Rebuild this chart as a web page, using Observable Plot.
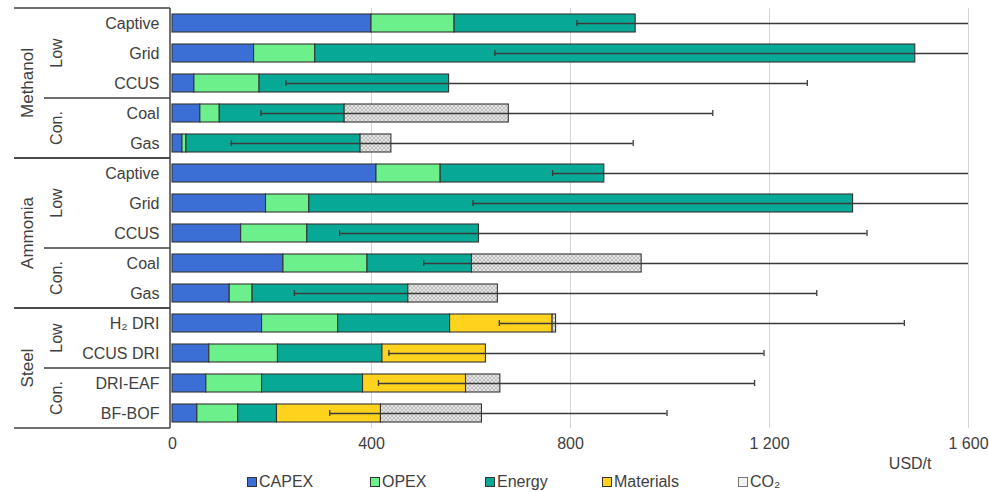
<!DOCTYPE html>
<html><head><meta charset="utf-8">
<script src="https://cdn.jsdelivr.net/npm/d3@7"></script>
<script src="https://cdn.jsdelivr.net/npm/@observablehq/plot@0.6"></script>
<style>
body{margin:0;background:#fff;font-family:"Liberation Sans",Arial,sans-serif;}
#chart{position:relative;width:989px;height:492px;overflow:hidden;}
#chart svg{display:block;}
.legend{position:relative;width:989px;height:20px;font-size:16px;color:#404040;}
.item{position:absolute;top:0;height:20px;display:flex;align-items:center;white-space:nowrap;}
.sw{width:8px;height:8px;border:1px solid #333;margin-right:2px;}
</style></head><body><div id="chart"></div>
<script>
// ---- data ----
const commodities = ["Methanol","Methanol","Methanol","Methanol","Methanol","Ammonia","Ammonia","Ammonia","Ammonia","Ammonia","Steel","Steel","Steel","Steel"];
const subgroups  = ["Low","Low","Low","Con.","Con.","Low","Low","Low","Con.","Con.","Low","Low","Con.","Con."];
const routes     = ["Captive","Grid","CCUS","Coal","Gas","Captive","Grid","CCUS","Coal","Gas","H₂ DRI","CCUS DRI","DRI-EAF","BF-BOF"];
const capex      = [400,164,44,56,20,410,188,138,223,115,180,74,68,50];
const opex       = [167,123,131,39,8,129,87,133,169,46,153,138,112,82];
const energy     = [364,1206,381,251,350,329,1093,345,210,313,225,210,203,78];
const materials  = [0,0,0,0,0,0,0,0,0,0,206,208,207,209];
const co2        = [0,0,0,330,62,0,0,0,341,180,7,0,69,203];
const errLow     = [813,648,228,178,118,764,604,336,505,245,657,435,414,316];
const errHigh    = [1700,1700,1276,1086,926,1700,1700,1396,1700,1295,1471,1189,1170,994];
const components = ["CAPEX","OPEX","Energy","Materials","CO₂"];
const colors     = ["#3b6fd6","#6cf08c","#08a896","#ffd21e","url(#co2hatch)"];
const xTicks     = [0,400,800,1200,1600];
const unitLabel  = "USD/t";

// ---- build tables ----
const keys = routes.map((r,i)=>commodities[i]+"|"+subgroups[i]+"|"+r);
const routeOf = Object.fromEntries(keys.map((k,i)=>[k,routes[i]]));
const series = [capex,opex,energy,materials,co2];
const long = [];
keys.forEach((k,i)=>components.forEach((c,j)=>{ if(series[j][i]>0) long.push({key:k,component:c,value:series[j][i]}); }));
const errs = keys.map((k,i)=>({key:k,lo:errLow[i],hi:errHigh[i]}));
const font = '"Liberation Sans", Arial, sans-serif';

const svg = Plot.plot({
  width: 989, height: 472,
  marginLeft: 172, marginRight: 21, marginTop: 8, marginBottom: 44,
  style: {fontFamily: font, fontSize: "16px", color: "#404040", background: "white"},
  x: {domain: [0,1600], label: null},
  y: {domain: keys, paddingInner: 0.4, paddingOuter: 0.2, label: null},
  color: {domain: components, range: colors},
  marks: [
    Plot.gridX(xTicks.filter(d=>d>0), {stroke: "#d4d4d4", strokeOpacity: 1, strokeWidth: 1}),
    Plot.axisX({ticks: xTicks, tickSize: 0, tickPadding: 9, fontSize: 16, label: null,
      tickFormat: d => d3.format(",")(d).replace(/,/g," ")}),
    Plot.axisY({tickSize: 0, tickPadding: 13, fontSize: 16, label: null, tickFormat: k => routeOf[k]}),
    Plot.barX(long, {x: "value", y: "key", fill: "component", stroke: "#333", strokeWidth: 1.1}),
    Plot.ruleY(errs, {y: "key", x1: "lo", x2: "hi", stroke: "#3a3a3a", strokeWidth: 1.3, clip: true}),
    Plot.tickX(errs, {x: "lo", y: "key", insetTop: 6, insetBottom: 6, stroke: "#3a3a3a", strokeWidth: 1.3, clip: true}),
    Plot.tickX(errs, {x: "hi", y: "key", insetTop: 6, insetBottom: 6, stroke: "#3a3a3a", strokeWidth: 1.3, clip: true}),
    Plot.text([unitLabel], {frameAnchor: "bottom-right", dx: -37, dy: 40, textAnchor: "end", fontSize: 16, fill: "#404040"})
  ]
});

// pattern for CO2
const sel = d3.select(svg);
const defs = sel.insert("defs", ":first-child");
const pat = defs.append("pattern").attr("id","co2hatch").attr("patternUnits","userSpaceOnUse").attr("width",4).attr("height",4);
pat.append("rect").attr("width",4).attr("height",4).attr("fill","#e4e4e4");
pat.append("path").attr("d","M0,0L4,4M4,0L0,4").attr("stroke","#a8a8a8").attr("stroke-width",0.6);

// bracket lines and group labels
const ys = svg.scale("y");
const bw = ys.bandwidth, gap = (ys.step - ys.bandwidth)/2;
const bandTop = k => ys.apply(k) - gap, bandBot = k => ys.apply(k) + bw + gap;
const xBox = 170, xFull = 14, xSub = 44;
const lg = sel.append("g").attr("stroke","#404040").attr("stroke-width",1.5);
lg.append("line").attr("x1",xBox).attr("x2",xBox).attr("y1",bandTop(keys[0])).attr("y2",bandBot(keys[keys.length-1]));
const tg = sel.append("g").attr("fill","#404040").attr("font-family",font);
function runs(arr){ const out=[]; arr.forEach((v,i)=>{ if(!out.length||out[out.length-1].v!==v) out.push({v,s:i,e:i}); else out[out.length-1].e=i; }); return out; }
runs(commodities).forEach(cg=>{
  const y0 = bandTop(keys[cg.s]), y1 = bandBot(keys[cg.e]);
  lg.append("line").attr("x1",xFull).attr("x2",xBox).attr("y1",y0).attr("y2",y0);
  lg.append("line").attr("x1",xFull).attr("x2",xBox).attr("y1",y1).attr("y2",y1);
  tg.append("text").attr("transform",`translate(33,${(y0+y1)/2}) rotate(-90)`).attr("text-anchor","middle").attr("font-size",17).text(cg.v);
  const subs = runs(subgroups.slice(cg.s,cg.e+1)).map(o=>({v:o.v,s:o.s+cg.s,e:o.e+cg.s}));
  subs.forEach((sg,j)=>{
    const a = bandTop(keys[sg.s]), b = bandBot(keys[sg.e]);
    if(j>0) lg.append("line").attr("x1",xSub).attr("x2",xBox).attr("y1",a).attr("y2",a);
    tg.append("text").attr("transform",`translate(62,${(a+b)/2}) rotate(-90)`).attr("text-anchor","middle").attr("font-size",16).text(sg.v);
  });
});

const chart = document.getElementById("chart");
chart.appendChild(svg);

// legend
const legend = document.createElement("div");
legend.className = "legend";
const legX = [247,370,485,602,738];
const swFill = ["#3b6fd6","#6cf08c","#08a896","#ffd21e","#f2f2f2"];
components.forEach((c,i)=>{
  const it = document.createElement("div"); it.className="item"; it.style.left=legX[i]+"px";
  const sw = document.createElement("div"); sw.className="sw"; sw.style.background=swFill[i];
  if(i===4) sw.style.borderColor="#777";
  const tx = document.createElement("span"); tx.textContent=c;
  it.appendChild(sw); it.appendChild(tx); legend.appendChild(it);
});
chart.appendChild(legend);
</script></body></html>
